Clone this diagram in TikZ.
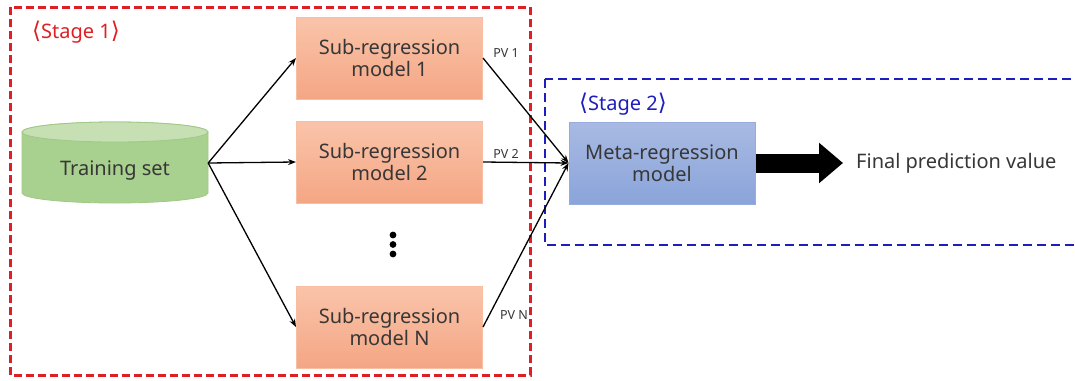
\documentclass[tikz,border=0pt]{standalone}
\usepackage{fontspec}
\setmainfont{Noto Sans}
\newfontfamily\symfont{DejaVu Sans}
\usetikzlibrary{arrows.meta}

\definecolor{stageonec}{RGB}{222,32,38}
\definecolor{stagetwoc}{RGB}{30,30,190}
\definecolor{txt}{RGB}{55,55,55}
\definecolor{subtop}{RGB}{250,196,170}
\definecolor{subbot}{RGB}{244,166,132}
\definecolor{subline}{RGB}{248,190,162}
\definecolor{cylbody}{RGB}{168,208,142}
\definecolor{cyltop}{RGB}{198,224,180}
\definecolor{cylline}{RGB}{160,200,135}
\definecolor{metatop}{RGB}{168,186,226}
\definecolor{metabot}{RGB}{138,164,218}
\definecolor{metaline}{RGB}{150,172,220}

\newcommand\lbrk{{\symfont\fontsize{23}{22}\selectfont ⟨}}
\newcommand\rbrk{{\symfont\fontsize{23}{22}\selectfont ⟩}}

\tikzset{
  boxtext/.style={font=\fontsize{20}{22}\selectfont, text=txt, align=center},
  subbox/.style={boxtext, rectangle, minimum width=186pt, minimum height=82pt,
    inner sep=0pt, top color=subtop, bottom color=subbot, draw=subline, line width=1pt},
  metabox/.style={boxtext, rectangle, minimum width=186pt, minimum height=82pt,
    inner sep=0pt, top color=metatop, bottom color=metabot, draw=metaline, line width=1pt},
  conn/.style={line width=1.3pt, -{Stealth[length=8pt,width=6pt]}},
  pvlabel/.style={font=\fontsize{12.5}{14}\selectfont, text=txt, inner sep=0pt},
  stagelabel/.style={font=\fontsize{20}{22}\selectfont, anchor=west, inner sep=0pt},
  frameone/.style={draw=stageonec, line width=3pt, dash pattern=on 8pt off 4pt},
  frametwo/.style={draw=stagetwoc, line width=2.6pt, dash pattern=on 9pt off 5pt},
}

\begin{document}
\begin{tikzpicture}[x=1pt, y=1pt]
\clip (0,0) rectangle (1075,-380);
\fill[white] (0,0) rectangle (1075,-380);

% stage frames
\draw[frameone] (10,-7) rectangle (530,-375);
\draw[frametwo] (545,-79) rectangle (1090,-245);
\node[stagelabel, text=stageonec] (st1) at (32,-32) {\lbrk Stage 1\rbrk};
\node[stagelabel, text=stagetwoc] (st2) at (579,-104) {\lbrk Stage 2\rbrk};

% training set cylinder
\filldraw[fill=cylbody, draw=cylline, line width=0.8pt]
  (22,-132) -- (22,-193) arc[start angle=180, end angle=360, x radius=93, y radius=10]
  -- (208,-132) arc[start angle=0, end angle=180, x radius=93, y radius=10] -- cycle;
\filldraw[fill=cyltop, draw=cylline, line width=0.8pt] (115,-132) ellipse[x radius=93, y radius=10];
% text sits a little below the connector anchor height
\node[boxtext, minimum width=186pt, inner sep=0pt, text height=29pt, text depth=5pt] (train) at (115,-163) {Training set};

% sub-regression models
\node[subbox] (s1) at (389.5,-58) {Sub-regression\\model 1};
\node[subbox] (s2) at (389.5,-162) {Sub-regression\\model 2};
\node[subbox] (sN) at (389.5,-327) {Sub-regression\\model N};
\foreach \yy in {235,244.5,254} \fill[black] (393,-\yy) circle (3.4);

% meta model and output
\node[metabox] (meta) at (662,-163) {Meta-regression\\model};
\node[boxtext, anchor=west, inner sep=0pt] (final) at (856,-163) {Final prediction value};

% connectors
\draw[conn] (train.east) -- (s1.west);
\draw[conn] (train.east) -- (s2.west);
\draw[conn] (train.east) -- (sN.west);
\draw[conn] (s1.east) -- (meta.west);
\draw[conn] (s2.east) -- (meta.west);
\draw[conn] (sN.east) -- (meta.west);
\draw[line width=19pt, -{Triangle[length=24pt,width=39pt]}, shorten >=13pt] (meta.east) -- (final.west);

% prediction value labels
\node[pvlabel] (pv1) at (506,-53) {PV 1};
\node[pvlabel] (pv2) at (506,-154) {PV 2};
\node[pvlabel] (pvN) at (514,-315) {PV N};
\end{tikzpicture}
\end{document}
